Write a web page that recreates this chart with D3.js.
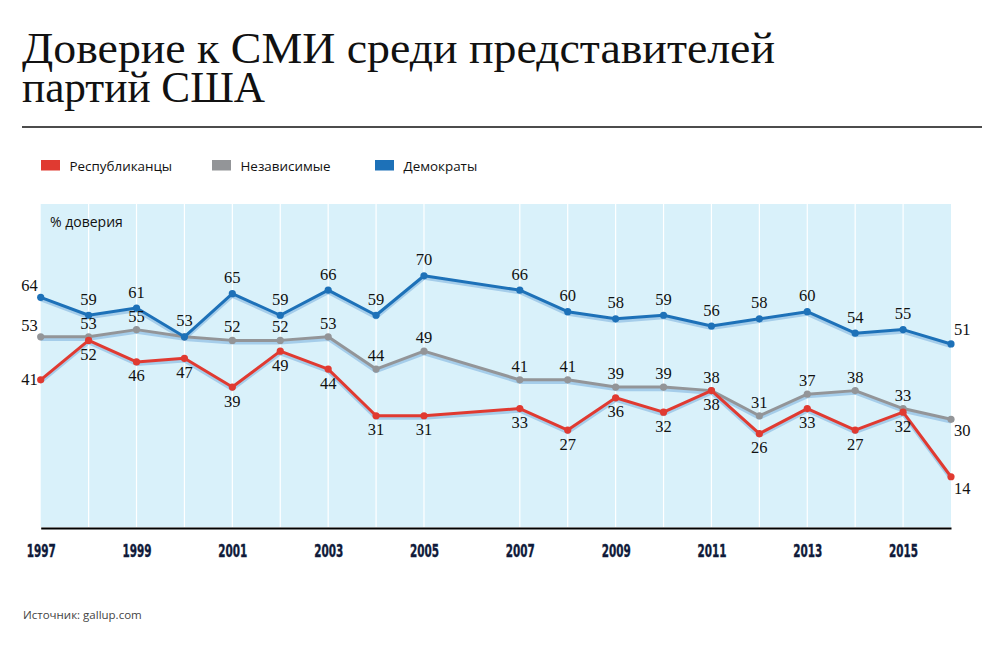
<!DOCTYPE html>
<html><head><meta charset="utf-8">
<script src="https://cdn.jsdelivr.net/npm/d3@7"></script>
<style>body{margin:0;background:#fff}</style>
</head><body><svg id="c" width="998" height="648"></svg>
<script>
const years = [1997,1998,1999,2000,2001,2002,2003,2004,2005,2007,2008,2009,2010,2011,2012,2013,2014,2015,2016];
const republicans = [41,52,46,47,39,49,44,31,31,33,27,36,32,38,26,33,27,32,14];
const independents = [53,53,55,53,52,52,53,44,49,41,41,39,39,38,31,37,38,33,30];
const democrats = [64,59,61,53,65,59,66,59,70,66,60,58,59,56,58,60,54,55,51];
const tickYears = [1997,1999,2001,2003,2005,2007,2009,2011,2013,2015];
const seriesNames = ["Республиканцы","Независимые","Демократы"];
const seriesColors = ["#e03a31","#939598","#1d71b8"];
const titleLines = ["Доверие к СМИ среди представителей","партий США"];
const yLabel = "% доверия";
const sourceText = "Источник: gallup.com";

const svg = d3.select("#c");
const serif = "'Liberation Serif','DejaVu Serif',serif";
const sans = "'Open Sans','Noto Sans',sans-serif";

// title (one text block, two lines)
const titleWidths = [753, 243];
const title = svg.append("text").attr("font-family",serif).attr("font-size",45).attr("fill","#111");
titleLines.forEach((t,i)=>{
  title.append("tspan").attr("x",22).attr("y",63+i*39)
    .attr("textLength",titleWidths[i]).attr("lengthAdjust","spacingAndGlyphs").text(t);
});
svg.append("line").attr("x1",22).attr("x2",982).attr("y1",127).attr("y2",127)
  .attr("stroke","#111").attr("stroke-width",1.3);

// legend
const legX = [41,212,375];
seriesNames.forEach((n,i)=>{
  svg.append("rect").attr("x",legX[i]).attr("y",160).attr("width",19).attr("height",10.5).attr("fill",seriesColors[i]);
  svg.append("text").attr("x",legX[i]+28.5).attr("y",171).attr("font-family",sans).attr("font-size",13.4)
    .attr("fill","#111").text(n);
});

const x = d3.scaleLinear().domain([1997,2016]).range([40.7,951]);
const y = d3.scaleLinear().domain([0,90]).range([527,204]);

svg.append("rect").attr("x",x(1997)).attr("y",y(90)).attr("width",x(2016)-x(1997)).attr("height",y(0)-y(90))
  .attr("fill","#d9f1fa");
svg.append("g").selectAll("line").data(years.slice(1,-1)).join("line")
  .attr("x1",d=>x(d)).attr("x2",d=>x(d)).attr("y1",y(90)).attr("y2",y(0))
  .attr("stroke","#fff").attr("stroke-width",1.2);

svg.append("text").attr("x",50).attr("y",227).attr("font-family",sans).attr("font-size",14).attr("fill","#111").text(yLabel);

// axis
const ax = svg.append("g").attr("transform",`translate(0,${y(0)+1})`)
  .call(d3.axisBottom(x).tickValues(tickYears).tickFormat(d3.format("d")).tickSize(0).tickPadding(16.5));
ax.select(".domain").attr("stroke","#000").attr("stroke-width",2.2);
ax.selectAll("text").attr("font-family","'DejaVu Sans Condensed','Liberation Sans Narrow',sans-serif")
  .attr("font-weight","bold").attr("font-size",18).attr("fill","#0f1a3a")
  .attr("stroke","#0f1a3a").attr("stroke-width",0.4)
  .attr("textLength",29).attr("lengthAdjust","spacingAndGlyphs");

const allSeries = [republicans, independents, democrats];
const drawOrder = [1,0,2];
const line = d3.line().x((d,j)=>x(years[j])).y(d=>y(d));

drawOrder.forEach(i=>{
  const vals = allSeries[i];
  svg.append("path").datum(vals).attr("d",line).attr("fill","none")
    .attr("stroke","#a5cdea").attr("stroke-width",3.2).attr("transform","translate(0,2.5)").attr("stroke-linejoin","round");
});
drawOrder.forEach(i=>{
  const vals = allSeries[i];
  svg.append("path").datum(vals).attr("d",line).attr("fill","none")
    .attr("stroke",seriesColors[i]).attr("stroke-width",3).attr("stroke-linejoin","round");
  svg.append("g").selectAll("circle").data(vals).join("circle")
    .attr("cx",(d,j)=>x(years[j])).attr("cy",d=>y(d)).attr("r",3.6).attr("fill",seriesColors[i]);
});

// value labels
const lab = svg.append("g").attr("font-family",serif).attr("font-size",16.5).attr("fill","#111");
allSeries.forEach((vals,i)=>{
  vals.forEach((v,j)=>{
    if(i===1 && democrats[j]===v) return;
    const px = x(years[j]), py = y(v);
    let tx=px, ty, anchor="middle";
    if(j===0){ anchor="end"; tx=px-3; ty = i===0 ? py+5 : py-6; }
    else if(j===vals.length-1){ anchor="start"; tx=px+3; ty = i===2 ? py-9 : py+17; }
    else { ty = i===0 ? py+19.5 : (i===1 ? py-8 : py-10.5); }
    lab.append("text").attr("x",tx).attr("y",ty).attr("text-anchor",anchor).text(v);
  });
});

svg.append("text").attr("x",23).attr("y",619).attr("font-family",sans).attr("font-size",11.5).attr("fill","#444").text(sourceText);
</script></body></html>
